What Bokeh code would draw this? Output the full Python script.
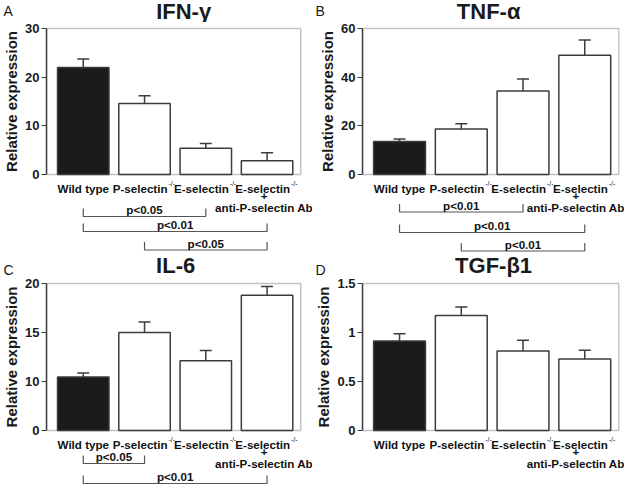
from bokeh.plotting import figure
from bokeh.models import Range1d, FixedTicker, Whisker, TeeHead, ColumnDataSource, Label, BoxAnnotation
from bokeh.layouts import row, column
from bokeh.core.properties import value
from bokeh.embed import file_html
from bokeh.resources import INLINE

# ---------------- data ----------------
categories = ["Wild type", "P-selectin", "E-selectin", "E-selectin"]
superscripts = ["", "-/-", "-/-", "-/-"]
extra_lines = ["+", "anti-P-selectin Ab"]  # under the 4th category
panel_letters = ["A", "B", "C", "D"]
titles = ["IFN-γ", "TNF-α", "IL-6", "TGF-β1"]

ifn_mean = [22.0, 14.6, 5.4, 2.8]
ifn_sem = [1.75, 1.6, 0.95, 1.65]
tnf_mean = [13.6, 18.7, 34.3, 49.0]
tnf_sem = [1.0, 2.2, 4.9, 6.3]
il6_mean = [10.46, 15.0, 12.13, 18.8]
il6_sem = [0.4, 1.06, 1.03, 0.9]
tgf_mean = [0.914, 1.174, 0.81, 0.73]
tgf_sem = [0.072, 0.086, 0.11, 0.09]

ifn_brackets = [(0, 2, "p<0.05"), (0, 3, "p<0.01"), (1, 3, "p<0.05")]
tnf_brackets = [(0, 2, "p<0.01"), (0, 3, "p<0.01"), (1, 3, "p<0.01")]
il6_brackets = [(0, 1, "p<0.05"), (0, 3, "p<0.01")]
tgf_brackets = []

ifn_ticks = [0, 10, 20, 30]
tnf_ticks = [0, 20, 40, 60]
il6_ticks = [5, 10, 15, 20]
il6_tick_labels = {5: "0"}
tgf_ticks = [0, 0.5, 1, 1.5]
tgf_tick_labels = {0: "0", 0.5: "0.5", 1: "1", 1.5: "1.5"}

# ---------------- layout / style ----------------
FONT_NAME = "Liberation Sans"
FONT = value(FONT_NAME)
EDGE = "#3c3c3c"
TXT_COLOR = "#111111"
XR = (-0.6, 3.55)
BAR_W = 0.84
W = 312
BL = 40
PAD = 6


def x_range_for(br):
    k = (XR[1] - XR[0]) / (W - BL - br)
    return Range1d(XR[0], XR[1] + br * k)


def strip(h, xr):
    q = figure(width=W, height=h, x_range=xr, y_range=Range1d(h, 0),
               x_axis_location=None, y_axis_location=None, output_backend="svg",
               toolbar_location=None, min_border_left=BL, min_border_right=0,
               min_border_top=0, min_border_bottom=0)
    q.grid.visible = False
    q.outline_line_color = None
    return q


def add_header(q, letter, heading, y_letter, y_mid, x_off):
    # the letter sits in the (empty) left side panel so it is not clipped by the frame
    q.add_layout(Label(x=3, y=y_letter, x_units="canvas", y_units="canvas", text=letter,
                       text_font=FONT_NAME, text_font_size="14px", text_color="#1a1a1a",
                       text_baseline="top"), "left")
    q.text(x=[(XR[0] + XR[1]) / 2], y=[y_mid], text=[heading], text_align="center",
           text_baseline="middle", x_offset=x_off, text_font=FONT,
           text_font_style="bold", text_font_size="22px", text_color="#1a1a1a")


TXT = dict(text_font=FONT, text_font_style="bold", text_font_size="11.6px",
           text_color=TXT_COLOR, text_baseline="middle")
ROWS = (7.5, 2.5, 15.5, 26.5)   # label, superscript, "+", "anti-P-selectin Ab"


def add_categories(q, last_off):
    y_lab, y_sup, y_plus, y_anti = ROWS
    plain = [i for i, s in enumerate(superscripts) if not s]
    supd = [i for i, s in enumerate(superscripts) if s]
    q.text(x=plain, y=[y_lab] * len(plain), text=[categories[i] for i in plain],
           text_align="center", **TXT)
    q.text(x=supd, y=[y_lab] * len(supd), text=[categories[i] for i in supd],
           text_align="right", x_offset=23, **TXT)
    q.text(x=supd, y=[y_sup] * len(supd), text=[superscripts[i] for i in supd],
           text_align="left", x_offset=24, text_font=FONT, text_font_size="7px",
           text_color=TXT_COLOR, text_baseline="middle")
    last = len(categories) - 1
    q.text(x=[last, last], y=[y_plus, y_anti], text=extra_lines, text_align="center",
           x_offset=last_off, **TXT)


def add_brackets(q, brackets, levels):
    if not brackets:
        return
    bxs, bys, tx, ty, tt = [], [], [], [], []
    for (a, b, t), lv in zip(brackets, levels):
        bxs.append([a, a, b, b])
        bys.append([lv - 8, lv, lv, lv - 8])
        tx.append((a + b) / 2)
        ty.append(lv - 7)
        tt.append(t)
    q.multi_line(xs=bxs, ys=bys, line_color="#555555", line_width=1.2)
    q.text(x=tx, y=ty, text=tt, text_align="center", **TXT)


def main_fig(xr, means, sems, ticks, tick_labels, yr, box_h):
    ypp = (yr[1] - yr[0]) / box_h
    p = figure(width=W, height=box_h + 2 * PAD, x_range=xr,
               y_range=Range1d(yr[0] - PAD * ypp, yr[1] + PAD * ypp),
               x_axis_location=None, output_backend="svg", toolbar_location=None,
               min_border_left=BL, min_border_right=0, min_border_top=0,
               min_border_bottom=0)
    p.grid.visible = False
    p.outline_line_color = None
    ax = p.yaxis[0]
    ax.bounds = yr
    ax.ticker = FixedTicker(ticks=ticks)
    if tick_labels:
        ax.major_label_overrides = tick_labels
    ax.axis_label = "Relative expression"
    ax.axis_label_text_font = FONT_NAME
    ax.axis_label_text_font_size = "15px"
    ax.axis_label_text_font_style = "bold"
    ax.axis_label_text_color = "#1a1a1a"
    ax.axis_label_standoff = 2
    ax.major_label_text_font = FONT_NAME
    ax.major_label_text_font_size = "13px"
    ax.major_label_text_font_style = "bold"
    ax.major_label_text_color = "#1a1a1a"
    ax.major_label_standoff = 2
    ax.major_tick_out = 5
    ax.major_tick_in = 0
    ax.minor_tick_out = 0
    ax.minor_tick_in = 0
    ax.axis_line_color = EDGE
    ax.axis_line_width = 1.5
    ax.major_tick_line_color = EDGE
    ax.major_tick_line_width = 1.2

    p.add_layout(BoxAnnotation(left=XR[0], right=XR[1], bottom=yr[0], top=yr[1],
                               fill_alpha=0, line_color=EDGE, line_width=1.5))
    xs = list(range(len(means)))
    uppers = [m + s for m, s in zip(means, sems)]
    fills = ["#1b1b1b"] + ["white"] * (len(means) - 1)
    src = ColumnDataSource(dict(x=xs, top=means, upper=uppers, fill=fills))
    p.add_layout(Whisker(base="x", lower="top", upper="upper", source=src,
                         dimension="height", line_color=EDGE, line_width=1.5,
                         upper_head=TeeHead(size=12, line_color=EDGE, line_width=1.5),
                         lower_head=None))
    p.vbar(x="x", top="top", bottom=yr[0], width=BAR_W, source=src,
           fill_color="fill", line_color=EDGE, line_width=1.5)
    return p


def build_column(br, top, bottom, title_offsets, last_off):
    xr = x_range_for(br)
    (lt_top, ti_top, m_top, s_top, tk_top, tl_top, yr_top, br_top, lv_top) = top
    (lt_bot, ti_bot, m_bot, s_bot, tk_bot, tl_bot, yr_bot, br_bot, lv_bot) = bottom

    hdr = strip(22, xr)
    add_header(hdr, lt_top, ti_top, 2, 10.5, title_offsets[0])

    main_top = main_fig(xr, m_top, s_top, tk_top, tl_top, yr_top, 146)

    mid = strip(97, xr)
    add_categories(mid, last_off)
    add_brackets(mid, br_top, lv_top)
    add_header(mid, lt_bot, ti_bot, 81, 84.5, title_offsets[1])

    main_bot = main_fig(xr, m_bot, s_bot, tk_bot, tl_bot, yr_bot, 147)

    low = strip(49, xr)
    add_categories(low, last_off)
    add_brackets(low, br_bot, lv_bot)
    return column(hdr, main_top, mid, main_bot, low, spacing=0)


left = build_column(
    12,
    (panel_letters[0], titles[0], ifn_mean, ifn_sem, ifn_ticks, None, (0, 30),
     ifn_brackets, [36, 51, 69.5]),
    (panel_letters[2], titles[2], il6_mean, il6_sem, il6_ticks, il6_tick_labels, (5, 20),
     il6_brackets, [27, 47]),
    (10, 2), -3)
right = build_column(
    6,
    (panel_letters[1], titles[1], tnf_mean, tnf_sem, tnf_ticks, None, (0, 60),
     tnf_brackets, [31.5, 52, 70.5]),
    (panel_letters[3], titles[3], tgf_mean, tgf_sem, tgf_ticks, tgf_tick_labels, (0, 1.5),
     tgf_brackets, []),
    (-2, 3), -9)

layout = row(left, right, spacing=0)

open("out.html", "w").write(file_html(layout, INLINE))
